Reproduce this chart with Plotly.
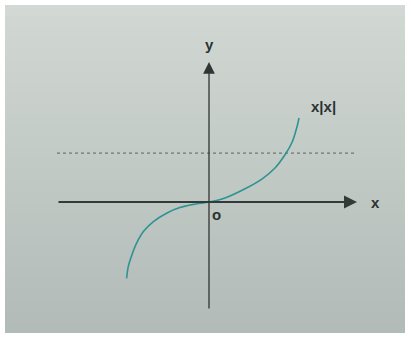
import plotly.graph_objects as go

# curve y = x|x| (1 unit ~ 40 px)
curve_x = [-2.06, -2.02, -1.93, -1.81, -1.64, -1.39, -1.06, -0.73, -0.39, 0.0,
           0.40, 0.90, 1.33, 1.65, 1.90, 2.08, 2.20, 2.25]
curve_y = [-1.91, -1.62, -1.33, -1.03, -0.74, -0.49, -0.28, -0.14, -0.06, 0.0,
           0.10, 0.33, 0.58, 0.85, 1.18, 1.50, 1.88, 2.10]

# dotted reference line
ref_level = 1.22
ref_x = [-3.8, 3.7]

# axis extents
x_axis = [-3.8, 3.7]
y_axis = [-2.7, 3.5]

W, H = 411, 337
PX = 40.0
ox, oy = 209, 202

fig = go.Figure()

# photo background with light top / darker bottom
top = (210, 217, 213)
bot = (178, 187, 183)
n = 30
y0p, y1p = 4 / H, 332 / H
step = (y1p - y0p) / n
for i in range(n):
    t = i / (n - 1)
    c = tuple(int(bot[k] + (top[k] - bot[k]) * t) for k in range(3))
    fig.add_shape(
        type="rect", xref="paper", yref="paper",
        x0=5 / W, x1=405 / W,
        y0=y0p + step * i, y1=min(y1p, y0p + step * (i + 1) + 2 / H),
        fillcolor="rgb(%d,%d,%d)" % c, line_width=0, layer="below",
    )

fig.add_trace(go.Scatter(
    x=ref_x, y=[ref_level, ref_level], mode="lines",
    line=dict(color="#6f7876", width=1.2, dash="dot"), hoverinfo="skip",
))

fig.add_trace(go.Scatter(
    x=curve_x, y=curve_y, mode="lines",
    line=dict(color="#2f9392", width=1.6, shape="spline", smoothing=0.8),
    hoverinfo="skip",
))

# axes with arrows
fig.add_annotation(x=x_axis[1], y=0, ax=x_axis[0], ay=0, axref="x", ayref="y",
                   xref="x", yref="y", showarrow=True, arrowhead=2, arrowsize=1.3,
                   arrowwidth=2, arrowcolor="#333a3a", text="")
fig.add_annotation(x=0, y=y_axis[1], ax=0, ay=y_axis[0], axref="x", ayref="y",
                   xref="x", yref="y", showarrow=True, arrowhead=2, arrowsize=1.8,
                   arrowwidth=1.3, arrowcolor="#2f3535", text="")

font = dict(family="Liberation Sans, Arial, sans-serif", color="#2c3232")
fig.add_annotation(x=0, y=3.95, text="<b>y</b>", showarrow=False, font=dict(size=15, **font))
fig.add_annotation(x=4.15, y=0, text="<b>x</b>", showarrow=False, font=dict(size=15, **font))
fig.add_annotation(x=0.18, y=-0.3, text="<b>o</b>", showarrow=False, font=dict(size=15, **font))
fig.add_annotation(x=2.85, y=2.4, text="<b>x|x|</b>", showarrow=False, font=dict(size=15, **font))

fig.update_xaxes(range=[-ox / PX, (W - ox) / PX], visible=False, fixedrange=True)
fig.update_yaxes(range=[-(H - oy) / PX, oy / PX], visible=False, fixedrange=True)
fig.update_layout(
    width=W, height=H, margin=dict(l=0, r=0, t=0, b=0),
    paper_bgcolor="white", plot_bgcolor="white", showlegend=False,
)

fig.write_html("out.html", config={"displayModeBar": False},
               post_script="document.body.style.margin='0';")
